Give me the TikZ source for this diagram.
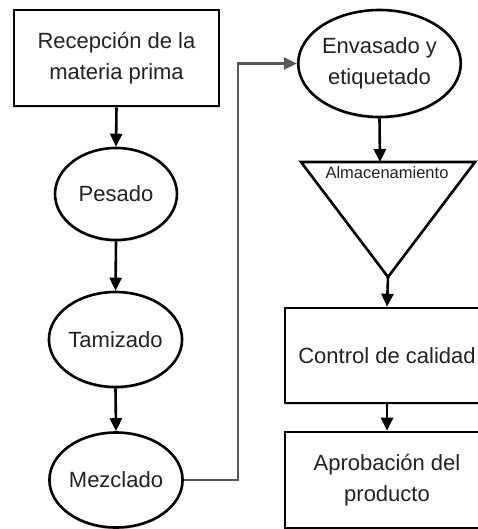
\documentclass[tikz,border=0pt]{standalone}
\usepackage{fontspec}
\setmainfont{Liberation Sans}
\usetikzlibrary{arrows.meta,shapes.geometric,shadows}
\definecolor{txt}{HTML}{222222}
\definecolor{conn}{HTML}{595959}
\tikzset{
  x=1pt,y=1pt,
  shad/.style={drop shadow={shadow xshift=0pt,shadow yshift=-2pt,opacity=0.15,fill=black}},
  boxnode/.style={draw=black,line width=2.6pt,fill=white,rectangle,inner sep=0pt,shad,
    text=txt,font=\fontsize{22}{30.5}\selectfont,align=center},
  ellnode/.style={draw=black,line width=2.6pt,fill=white,ellipse,inner sep=0pt,shad,
    text=txt,font=\fontsize{22}{30.5}\selectfont,align=center},
  flow/.style={line width=2.6pt,black,-{Triangle[length=13pt,width=12pt]}},
  grayflow/.style={line width=2.6pt,conn,-{Triangle[length=13pt,width=12pt]}}
}
\begin{document}
\begin{tikzpicture}
\clip (0,0) rectangle (478,-529);
\fill[white] (0,0) rectangle (478,-529);
% left column
\node[boxnode,minimum width=205,minimum height=96] (rec) at (116.5,-58) {Recepción de la\\materia prima};
\node[ellnode,minimum width=122,minimum height=92] (pes) at (116,-194) {Pesado};
\node[ellnode,minimum width=121,minimum height=95] (tam) at (115.5,-339.5) {Tamizado};
\node[ellnode,minimum width=122,minimum height=95] (mez) at (116,-480) {Mezclado};
% right column
\node[ellnode,minimum width=156,minimum height=107] (env) at (379.5,-63.5) {Envasado y\\etiquetado};
\fill[black,opacity=0.13] (301,-164) -- (475,-164) -- (388,-279) -- cycle;
\draw[line width=2.6pt,fill=white,line join=miter] (301,-162) -- (475,-162) -- (388,-277) -- cycle;
\coordinate (tritop) at (380,-162);
\coordinate (triapex) at (388,-277);
\node[text=txt,font=\fontsize{16.5}{20}\selectfont,inner sep=0pt] (alm) at (387,-173) {Almacenamiento};
\node[boxnode,minimum width=204,minimum height=95] (ctl) at (387,-355.5) {Control de calidad};
\node[boxnode,minimum width=204,minimum height=96] (apr) at (387,-480) {Aprobación del\\producto};
% connectors
\draw[flow] (rec.south) -- (pes.north);
\draw[flow] (pes.south) -- (tam.north);
\draw[flow] (tam.south) -- (mez.north);
\draw[flow] (env.south) -- (tritop);
\draw[flow] (triapex) -- (ctl.north);
\draw[flow] (ctl.south) -- (apr.north);
\draw[grayflow] (mez.east) -- (238,-480) -- (238,-63.5) -- (env.west);
\end{tikzpicture}
\end{document}
